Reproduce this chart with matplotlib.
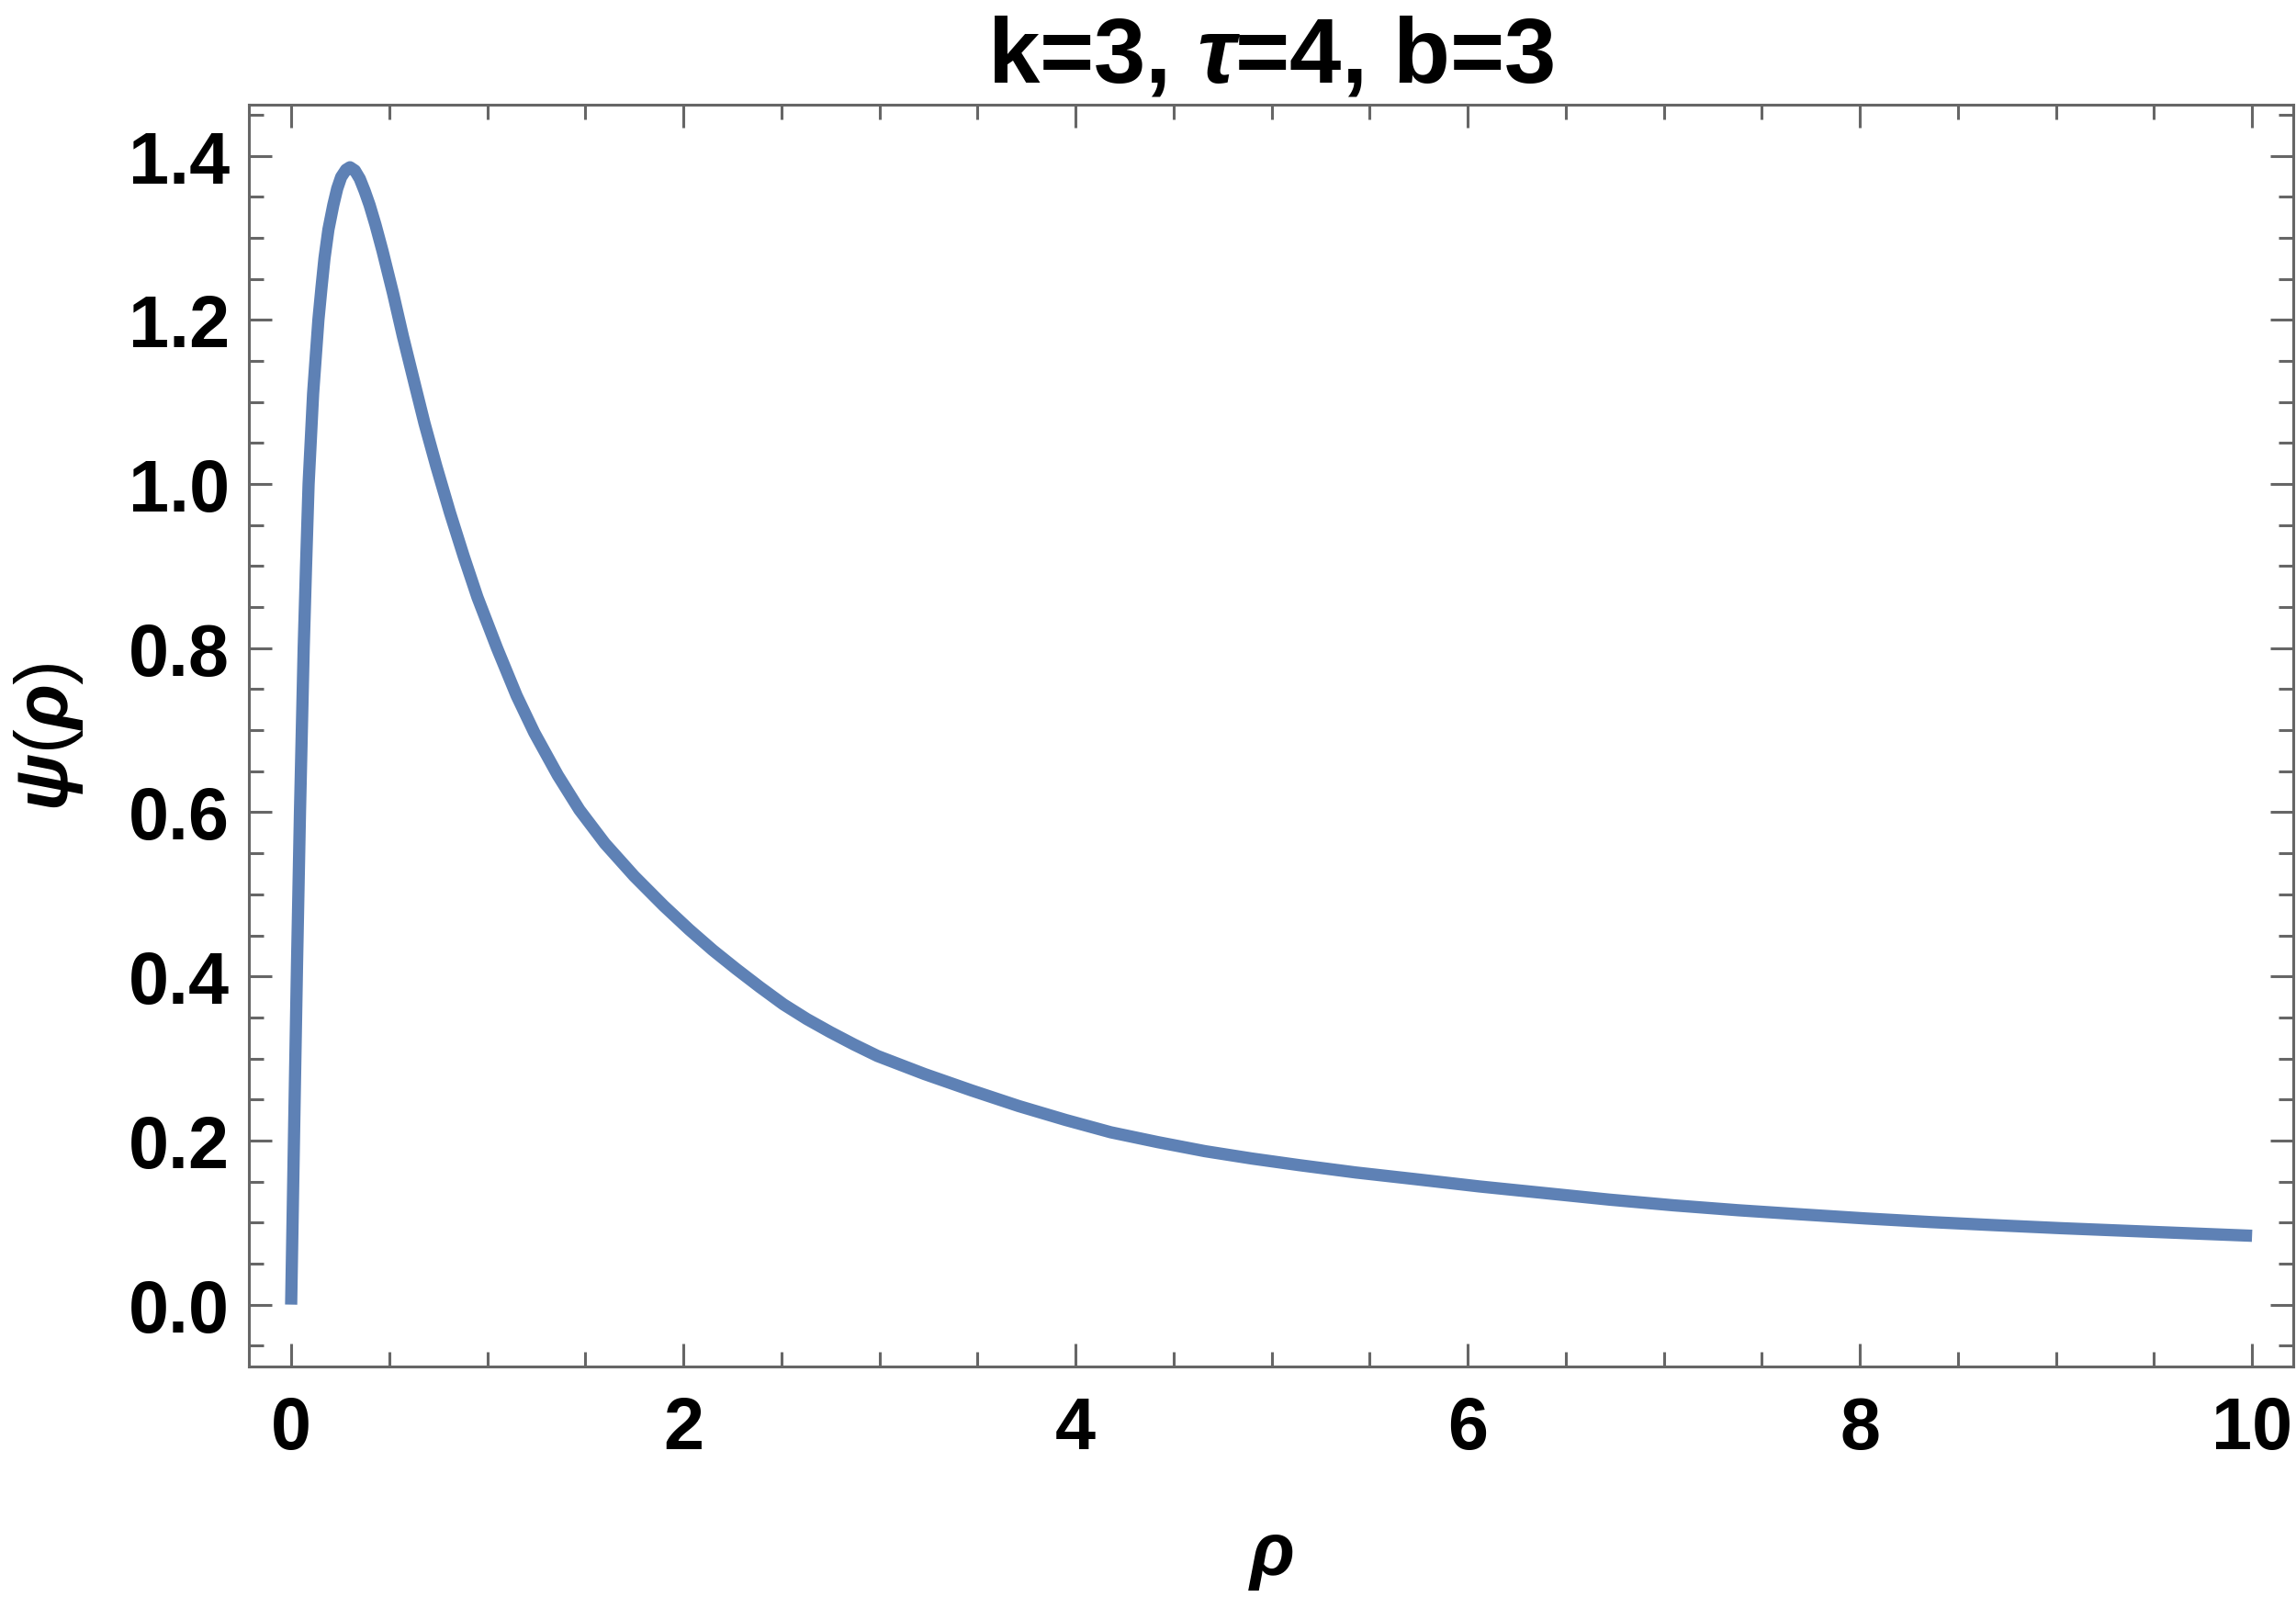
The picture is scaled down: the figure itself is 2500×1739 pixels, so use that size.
import matplotlib
matplotlib.use("Agg")
import matplotlib.pyplot as plt
from matplotlib.ticker import MultipleLocator, FixedLocator, FormatStrFormatter

# ---------------------------------------------------------------------------
# Data
# ---------------------------------------------------------------------------

RHO = [0.000, 0.010, 0.020, 0.030, 0.045, 0.064, 0.076, 0.089, 0.112, 0.139,
       0.155, 0.170, 0.190, 0.215, 0.235, 0.255, 0.280, 0.300, 0.325, 0.350,
       0.375, 0.400, 0.430, 0.466, 0.52, 0.57, 0.63, 0.68, 0.74, 0.81,
       0.88, 0.95, 1.05, 1.15, 1.24, 1.36, 1.47, 1.60, 1.75, 1.90,
       2.03, 2.15, 2.27, 2.39, 2.51, 2.63, 2.75, 2.87, 2.99, 3.23,
       3.47, 3.71, 3.95, 4.18, 4.42, 4.66, 4.90, 5.14, 5.43, 5.73,
       6.06, 6.39, 6.72, 7.05, 7.38, 7.70, 8.03, 8.36, 8.69, 9.02,
       9.51, 10.00]
PSI = [0.000, 0.140, 0.280, 0.415, 0.600, 0.800, 0.900, 1.000, 1.110, 1.200,
       1.240, 1.275, 1.310, 1.340, 1.360, 1.374, 1.383, 1.386, 1.382, 1.372,
       1.357, 1.340, 1.316, 1.284, 1.232, 1.180, 1.122, 1.074, 1.022, 0.965,
       0.912, 0.862, 0.800, 0.742, 0.697, 0.645, 0.603, 0.562, 0.522, 0.486,
       0.457, 0.432, 0.409, 0.387, 0.366, 0.348, 0.332, 0.317, 0.303, 0.281,
       0.261, 0.242, 0.225, 0.210, 0.198, 0.187, 0.178, 0.170, 0.161, 0.153,
       0.144, 0.136, 0.128, 0.121, 0.115, 0.110, 0.105, 0.1006, 0.0968, 0.0932,
       0.0885, 0.0839]

X_TICKS = [0, 2, 4, 6, 8, 10]
Y_TICKS = [0.0, 0.2, 0.4, 0.6, 0.8, 1.0, 1.2, 1.4]

TITLE = r"k=3, $\mathit{τ}$=4, b=3"
X_LABEL = r"$\mathit{ρ}$"
Y_LABEL = r"$\mathit{ψ}$($\mathit{ρ}$)"

LINE_COLOR = "#5E81B5"
FRAME_COLOR = "#666666"

plt.rcParams.update({
    "font.family": "Liberation Sans",
    "font.weight": "bold",
    "mathtext.fontset": "custom",
    "mathtext.it": "Liberation Sans:italic:bold",
    "mathtext.rm": "Liberation Sans:bold",
    "mathtext.bf": "Liberation Sans:bold",
})

fig = plt.figure(figsize=(25, 17.4), dpi=100)
ax = fig.add_axes([0.1084, 0.14425, 0.8904, 0.7897])

ax.plot(RHO, PSI, color=LINE_COLOR, lw=9.6,
        solid_capstyle="butt", solid_joinstyle="round")

ax.set_xlim(-0.2155, 10.21)
ax.set_ylim(-0.0754, 1.4623)

ax.xaxis.set_major_locator(FixedLocator(X_TICKS))
ax.xaxis.set_minor_locator(MultipleLocator(0.5))
ax.yaxis.set_major_locator(FixedLocator(Y_TICKS))
ax.yaxis.set_minor_locator(MultipleLocator(0.05))
ax.yaxis.set_major_formatter(FormatStrFormatter("%.1f"))

for sp in ax.spines.values():
    sp.set_color(FRAME_COLOR)
    sp.set_linewidth(2.2)

ax.tick_params(which="both", direction="in", top=True, right=True,
               color=FRAME_COLOR, width=2.2)
ax.tick_params(which="major", length=18, labelsize=57, pad=15)
ax.tick_params(which="minor", length=11.5)
ax.tick_params(axis="x", which="major", pad=22)

ax.set_title(TITLE, fontsize=73, fontweight="bold", pad=18)

ax.set_xlabel(X_LABEL, fontsize=58)
ax.xaxis.label.set_va("baseline")
ax.xaxis.set_label_coords(0.5, -0.1646)

ax.set_ylabel(Y_LABEL, fontsize=58)
ax.yaxis.set_label_coords(-0.080, 0.5)

fig.savefig("out.png", dpi=100)
